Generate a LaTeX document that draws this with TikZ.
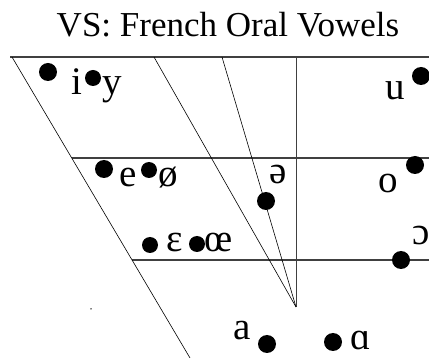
\documentclass[tikz,border=0pt]{standalone}
\usepackage{fontspec}
\setmainfont{Liberation Serif}
\begin{document}
\begin{tikzpicture}[x=1pt,y=-1pt,
  grid/.style={draw=black!75, line width=1.2pt},
  slant/.style={draw=black, line width=0.6pt},
  vdot/.style={circle, fill=black, inner sep=0pt, minimum size=18pt},
  sdot/.style={circle, fill=black, inner sep=0pt, minimum size=16pt},
  vowel/.style={anchor=base, inner sep=0pt, font=\fontsize{39}{42}\selectfont},
  title/.style={anchor=base, inner sep=0pt, font=\fontsize{35}{40}\selectfont}]
\useasboundingbox (0,0) rectangle (429,358);
% frame coordinates
\coordinate (TL) at (10,57);
\coordinate (TR) at (429,57);
\coordinate (ML) at (72,158);
\coordinate (MR) at (429,158);
\coordinate (LL) at (132,260);
\coordinate (LR) at (429,260);
\coordinate (LS) at (12,57);
\coordinate (LB) at (190,358);
\coordinate (S2) at (154,57);
\coordinate (S3) at (222,57);
\coordinate (VT) at (296,57);
\coordinate (AP) at (296,307);
% lines
\draw[grid] (TL) -- (TR);
\draw[grid] (ML) -- (MR);
\draw[grid] (LL) -- (LR);
\draw[grid, line width=1pt] (VT) -- (AP);
\draw[slant] (LS) -- (LB);
\draw[slant] (S2) -- (AP);
\draw[slant] (S3) -- (AP);
% title
\node[title] (t) at (228,37) {VS: French Oral Vowels};
% vowels
\node[vowel] (i) at (77,95) {i};
\node[vowel] (y) at (112,95) {y};
\node[vowel] (u) at (395,100) {u};
\node[vowel] (e) at (128,187) {e};
\node[vowel] (oe) at (168,187) {ø};
\node[vowel] (schwa) at (278,184) {ə};
\node[vowel] (o) at (388,193) {o};
\node[vowel] (eps) at (175,252) {ɛ};
\node[vowel] (oelig) at (219,252) {œ};
\node[vowel] (openo) at (421,245) {ɔ};
\node[vowel] (a) at (242,340) {a};
\node[vowel] (alpha) at (361,350) {ɑ};
% dots
\node[vdot] (d1) at (48,72) {};
\node[sdot] (d2) at (93,78) {};
\node[vdot] (d3) at (421,76) {};
\node[vdot] (d4) at (104,169) {};
\node[sdot] (d5) at (149,170) {};
\node[vdot] (d6) at (266,201) {};
\node[vdot] (d7) at (415,165) {};
\node[sdot] (d8) at (150,245) {};
\node[sdot] (d9) at (197,244) {};
\node[vdot] (d10) at (401,260) {};
\node[vdot] (d11) at (267,344) {};
\node[vdot] (d12) at (333,342) {};
\node[circle, fill=black, inner sep=0pt, minimum size=1.5pt] (speck) at (91,309) {};
\end{tikzpicture}
\end{document}
